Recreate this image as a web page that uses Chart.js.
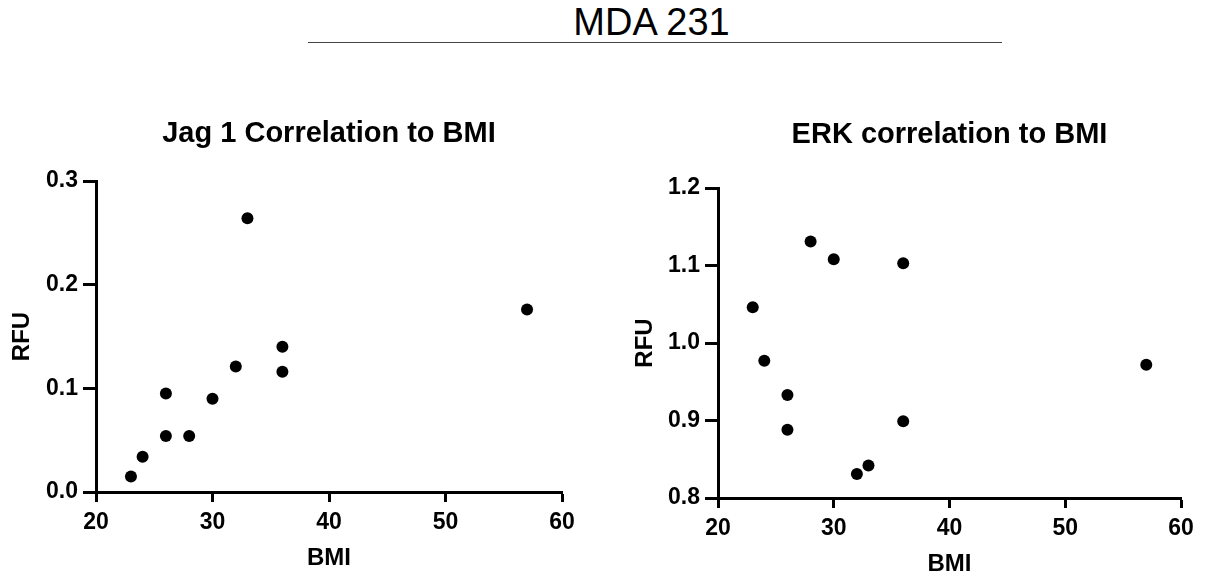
<!DOCTYPE html>
<html>
<head>
<meta charset="utf-8">
<script src="https://cdn.jsdelivr.net/npm/chart.js@4/dist/chart.umd.min.js"></script>
<style>
  body { margin: 0; background: #fff; width: 1206px; height: 579px; position: relative; overflow: hidden; }
  #mainTitle { position: absolute; left: 0; width: 1303px; top: 0; text-align: center;
    font: 38px "Liberation Sans", Arial, sans-serif; color: #000; line-height: 44px; }
  #rule { position: absolute; left: 308px; width: 694px; top: 42px; height: 0; border-top: 1.5px solid #444; }
  .box { position: absolute; top: 100px; width: 600px; height: 479px; }
</style>
</head>
<body>
<div id="mainTitle">MDA 231</div>
<div id="rule"></div>
<div class="box" style="left:0"><canvas id="jag1"></canvas></div>
<div class="box" style="left:606px"><canvas id="erk"></canvas></div>
<script>
const bmi = [23, 24, 26, 26, 28, 30, 32, 33, 36, 36, 57];
const jag1Rfu = [0.015, 0.034, 0.054, 0.095, 0.054, 0.090, 0.121, 0.264, 0.140, 0.116, 0.176];
const erkRfu = [1.046, 0.977, 0.933, 0.888, 1.131, 1.108, 0.831, 0.842, 1.103, 0.899, 0.972];
const bmiTicks = [20, 30, 40, 50, 60];

const fam = '"Liberation Sans", Arial, sans-serif';

function makeChart(id, title, yVals, yMin, yMax, lay) {
    const points = bmi.map((b, i) => ({ x: b, y: yVals[i] }));
    return new Chart(document.getElementById(id), {
        type: "scatter",
        data: {
            datasets: [{
                data: points,
                backgroundColor: "#000",
                borderWidth: 0,
                pointRadius: 6,
                pointHoverRadius: 6,
            }],
        },
        options: {
            responsive: true,
            maintainAspectRatio: false,
            animation: false,
            layout: { padding: { left: 0, right: lay.padRight, top: 0, bottom: 0 } },
            plugins: {
                legend: { display: false },
                tooltip: { enabled: false },
                title: {
                    display: true,
                    text: title,
                    fullSize: false,
                    color: "#000",
                    font: { family: fam, size: 29, weight: "bold" },
                    padding: { top: lay.titleTop, bottom: lay.titleBottom },
                },
            },
            scales: {
                x: {
                    type: "linear",
                    min: 20,
                    max: 60,
                    afterBuildTicks: (s) => { s.ticks = bmiTicks.map((v) => ({ value: v })); },
                    afterFit: (s) => { s.height = lay.xHeight; },
                    border: { display: true, color: "#000", width: 3 },
                    grid: { drawOnChartArea: false, drawTicks: true, tickLength: 10, tickWidth: 3, tickColor: "#000" },
                    ticks: { color: "#000", padding: 7, font: { family: fam, size: 23, weight: "bold" } },
                    title: {
                        display: true,
                        text: "BMI",
                        color: "#000",
                        font: { family: fam, size: 24, weight: "bold" },
                        padding: { top: 0, bottom: lay.xTitlePad },
                    },
                },
                y: {
                    min: yMin,
                    max: yMax,
                    afterFit: (s) => { s.width = lay.yWidth; },
                    border: { display: true, color: "#000", width: 3 },
                    grid: { drawOnChartArea: false, drawTicks: true, tickLength: 13, tickWidth: 3, tickColor: "#000" },
                    ticks: {
                        stepSize: 0.1,
                        color: "#000",
                        padding: 5,
                        font: { family: fam, size: 23, weight: "bold" },
                        callback: (v) => v.toFixed(1),
                    },
                    title: {
                        display: true,
                        text: "RFU",
                        color: "#000",
                        font: { family: fam, size: 24, weight: "bold" },
                        padding: { top: lay.yTitlePad, bottom: 0 },
                    },
                },
            },
        },
    });
}

makeChart("jag1", "Jag 1 Correlation to BMI", jag1Rfu, 0, 0.3, {
    padRight: 38, titleTop: 17, titleBottom: 29.2, xHeight: 87, xTitlePad: 6, yWidth: 96, yTitlePad: 7.5,
});
makeChart("erk", "ERK correlation to BMI", erkRfu, 0.8, 1.2, {
    padRight: 25, titleTop: 18, titleBottom: 35.2, xHeight: 81, xTitlePad: 0, yWidth: 112, yTitlePad: 24.5,
});
</script>
</body>
</html>
